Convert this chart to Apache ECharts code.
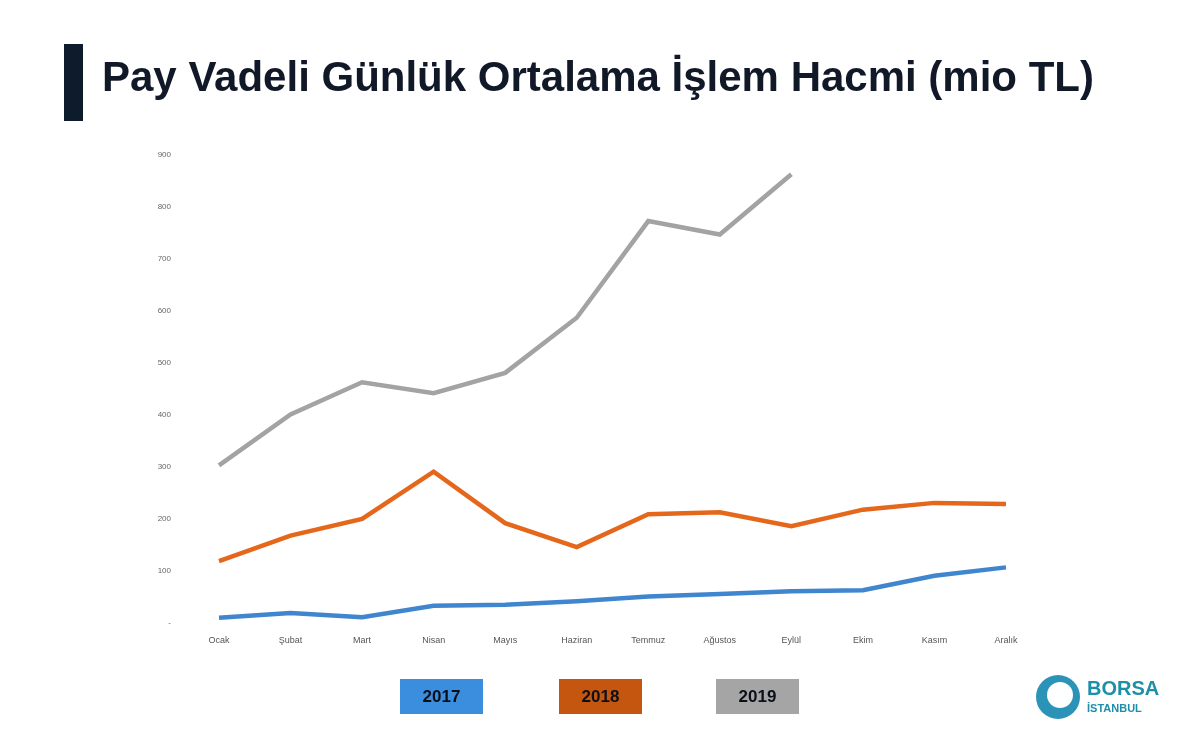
<!DOCTYPE html>
<html>
<head>
<meta charset="utf-8">
<script src="https://cdn.jsdelivr.net/npm/echarts@6/dist/echarts.min.js"></script>
<style>
  html, body { margin: 0; padding: 0; background: #fff; }
  #chart { width: 1200px; height: 748px; }
</style>
</head>
<body>
<div id="chart"></div>
<script>
// aylar
const months = ['Ocak', 'Şubat', 'Mart', 'Nisan', 'Mayıs', 'Haziran', 'Temmuz', 'Ağustos', 'Eylül', 'Ekim', 'Kasım', 'Aralık']
const years = ['2017', '2018', '2019']

// günlük ortalama işlem hacmi (mio TL)
const vol2017 = [10, 19, 11, 33, 35, 42, 51, 56, 61, 63, 91, 107]
const vol2018 = [119, 168, 200, 291, 192, 146, 209, 213, 186, 218, 231, 229]
const vol2019 = [303, 401, 463, 442, 481, 587, 773, 747, 863]

const yTicks = [0, 100, 200, 300, 400, 500, 600, 700, 800, 900]

const lineColors = ['#3f86cf', '#e5671b', '#a3a3a3']
const boxColors = ['#3b8ede', '#c4560f', '#a5a5a5']

const chart = echarts.init(document.getElementById('chart'))

// alt kısımdaki yıl kutuları
const legendX = [400, 559, 716]
const legendBoxes = years.map((y, i) => ({
    type: 'group',
    left: legendX[i],
    top: 679,
    children: [
        { type: 'rect', shape: { x: 0, y: 0, width: 83, height: 35 }, style: { fill: boxColors[i] } },
        { type: 'text', x: 41.5, y: 18, style: { text: y, fill: '#0b0f1a', font: 'bold 17px "Liberation Sans", Arial', align: 'center', verticalAlign: 'middle' } }
    ]
}))

const option = {
    backgroundColor: '#fff',
    animation: false,
    grid: { left: 219, right: 194, top: 155, bottom: 125 },
    xAxis: {
        type: 'category',
        data: months,
        boundaryGap: false,
        axisLine: { show: false },
        axisTick: { show: false },
        axisLabel: { color: '#555', fontSize: 9, margin: 13, fontFamily: 'Liberation Sans' }
    },
    yAxis: {
        type: 'value',
        min: yTicks[0],
        max: yTicks[yTicks.length - 1],
        interval: 100,
        splitLine: { show: false },
        axisLine: { show: false },
        axisTick: { show: false },
        axisLabel: {
            color: '#666', fontSize: 8, margin: 48, fontFamily: 'Liberation Sans',
            formatter: v => v === 0 ? '-' : v
        }
    },
    series: [vol2017, vol2018, vol2019].map((d, i) => ({
        name: years[i],
        type: 'line',
        data: d,
        symbol: 'none',
        lineStyle: { width: 4.5, color: lineColors[i], join: 'miter' },
        z: 3 - i
    })),
    graphic: [
        { type: 'rect', left: 64, top: 44, shape: { width: 19, height: 77 }, style: { fill: '#0e1b2c' } },
        {
            type: 'text', left: 102, top: 58,
            style: { text: 'Pay Vadeli Günlük Ortalama İşlem Hacmi (mio TL)', fill: '#111827', font: 'bold 42px "Liberation Sans", Arial' }
        },
        ...legendBoxes,
        // logo
        { type: 'circle', shape: { cx: 1058, cy: 697, r: 22 }, style: { fill: '#2b93b8' } },
        { type: 'circle', shape: { cx: 1060, cy: 695, r: 13 }, style: { fill: '#fff' } },
        { type: 'text', left: 1087, top: 679, style: { text: 'BORSA', fill: '#1d8fa8', font: 'bold 20px "Liberation Sans", Arial' } },
        { type: 'text', left: 1087, top: 703, style: { text: 'İSTANBUL', fill: '#1d8fa8', font: 'bold 11px "Liberation Sans", Arial' } }
    ]
}

chart.setOption(option)
</script>
</body>
</html>
